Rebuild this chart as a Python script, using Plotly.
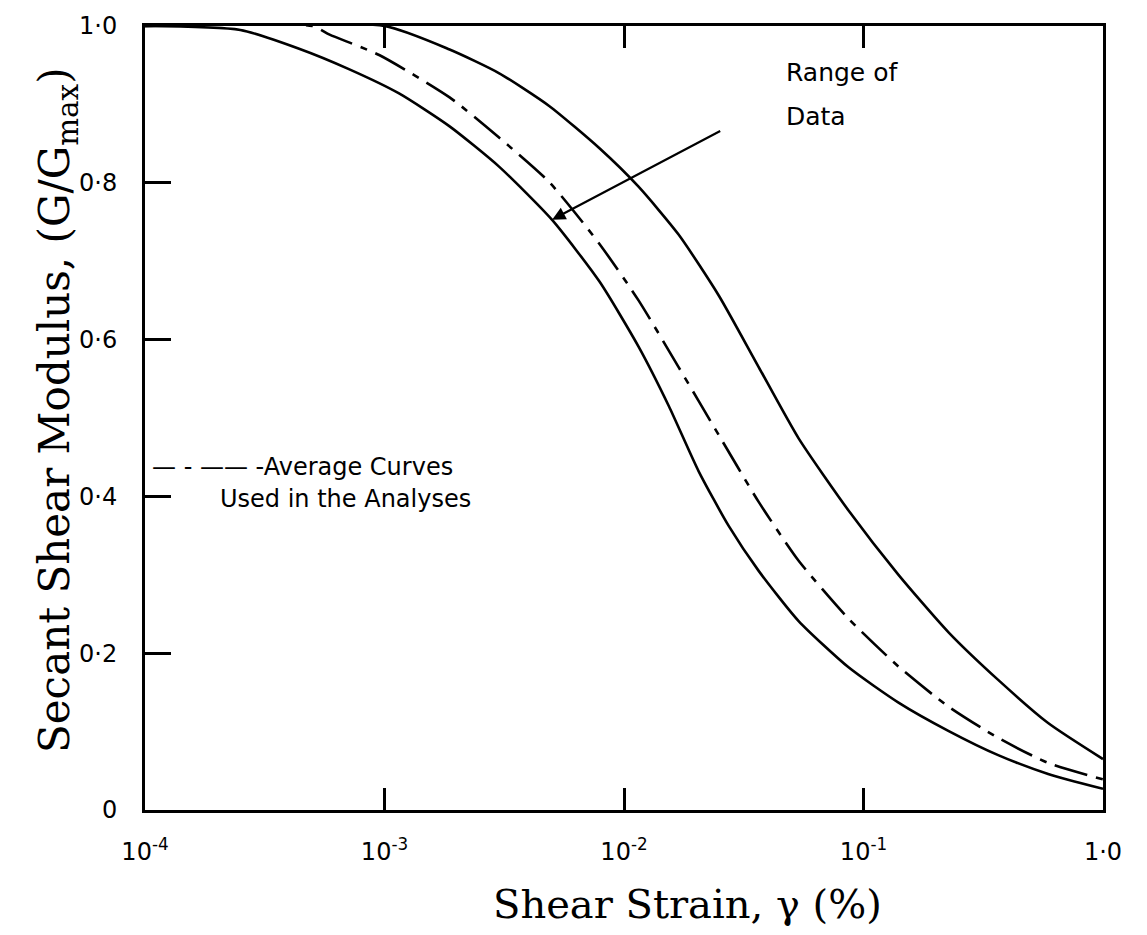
import plotly.graph_objects as go

# ---- data ----
lower_strain = [1e-4, 2.5e-4, 4.4e-4, 7.1e-4, 1.15e-3, 1.87e-3, 3.0e-3, 5.0e-3, 7.9e-3,
                1.15e-2, 1.54e-2, 2.05e-2, 2.74e-2, 3.65e-2, 5.36e-2, 8.66e-2, 0.14,
                0.226, 0.365, 0.59, 1.0]
lower_ratio = [1.0, 0.995, 0.971, 0.945, 0.914, 0.872, 0.821, 0.753, 0.674,
               0.591, 0.515, 0.432, 0.362, 0.305, 0.241, 0.182, 0.137,
               0.101, 0.070, 0.046, 0.027]

avg_strain = [1e-4, 5.0e-4, 5.9e-4, 9.5e-4, 1.87e-3, 3.0e-3, 4.87e-3, 7.9e-3, 1.15e-2,
              1.69e-2, 2.49e-2, 3.65e-2, 5.36e-2, 8.66e-2, 0.14, 0.226, 0.365, 0.59, 1.0]
avg_ratio = [1.0, 1.0, 0.989, 0.963, 0.909, 0.858, 0.801, 0.722, 0.650,
             0.565, 0.478, 0.393, 0.318, 0.244, 0.183, 0.132, 0.092, 0.060, 0.039]

upper_strain = [1e-4, 1.0e-3, 1.87e-3, 3.0e-3, 4.87e-3, 7.9e-3, 1.15e-2, 1.69e-2, 2.49e-2,
                3.65e-2, 5.36e-2, 8.66e-2, 0.14, 0.226, 0.365, 0.59, 1.0]
upper_ratio = [1.0, 1.0, 0.970, 0.940, 0.898, 0.844, 0.795, 0.734, 0.656,
               0.565, 0.474, 0.382, 0.300, 0.227, 0.166, 0.111, 0.065]

x_tickvals = [1e-4, 1e-3, 1e-2, 1e-1, 1.0]
x_ticktext = ["10<sup>-4</sup>", "10<sup>-3</sup>", "10<sup>-2</sup>", "10<sup>-1</sup>", "1·0"]
y_tickvals = [0, 0.2, 0.4, 0.6, 0.8, 1.0]
y_ticktext = ["0", "0·2", "0·4", "0·6", "0·8", "1·0"]

sans = "DejaVu Sans, Liberation Sans, sans-serif"
serif = "DejaVu Serif, Liberation Serif, serif"
NB = "\u00a0"

fig = go.Figure()
line_common = dict(color="black", width=2.6, shape="spline", smoothing=0.6)
fig.add_trace(go.Scatter(x=lower_strain, y=lower_ratio, mode="lines",
                         line=line_common, showlegend=False, hoverinfo="skip"))
fig.add_trace(go.Scatter(x=upper_strain, y=upper_ratio, mode="lines",
                         line=line_common, showlegend=False, hoverinfo="skip"))
fig.add_trace(go.Scatter(x=avg_strain, y=avg_ratio, mode="lines",
                         line=dict(color="black", width=2.6, shape="spline", smoothing=0.6,
                                   dash="34px,9px,7px,9px"),
                         showlegend=False, hoverinfo="skip"))

fig.update_layout(
    width=1147, height=935,
    margin=dict(l=145, r=44, t=16, b=125),
    paper_bgcolor="white", plot_bgcolor="white",
    xaxis=dict(type="log", range=[-4, 0], tickvals=x_tickvals, ticktext=x_ticktext,
               ticks="inside", ticklen=22, tickwidth=2.5, tickcolor="black",
               ticklabelstandoff=18,
               showline=True, linewidth=3, linecolor="black", mirror="ticks",
               showgrid=False, zeroline=False,
               tickfont=dict(family=sans, size=24, color="black")),
    yaxis=dict(range=[0, 1], tickvals=y_tickvals, ticktext=y_ticktext,
               ticks="inside", ticklen=26, tickwidth=2.5, tickcolor="black",
               ticklabelstandoff=20,
               showline=True, linewidth=3, linecolor="black", mirror=True,
               showgrid=False, zeroline=False,
               tickfont=dict(family=sans, size=24, color="black")),
    font=dict(family=sans, color="black"),
)

annotations = [
    dict(text="Shear Strain, γ (%)", xref="paper", yref="paper", x=0.566, y=-0.12,
         xanchor="center", yanchor="middle", showarrow=False,
         font=dict(family=serif, size=40, color="black")),
    dict(text="Secant Shear Modulus, (G/G<sub>max</sub>)", xref="paper", yref="paper",
         x=-0.092, y=0.51, xanchor="center", yanchor="middle", textangle=-90,
         showarrow=False, font=dict(family=serif, size=42, color="black")),
    dict(text="Range of", xref="paper", yref="paper", x=0.667, y=0.962,
         xanchor="left", yanchor="top", showarrow=False,
         font=dict(family=sans, size=25, color="black")),
    dict(text="Data", xref="paper", yref="paper", x=0.667, y=0.905,
         xanchor="left", yanchor="top", showarrow=False,
         font=dict(family=sans, size=25, color="black")),
    dict(text="—" + NB + "-" + NB + "——" + NB + "-Average Curves", xref="paper", yref="paper",
         x=0.005, y=0.437, xanchor="left", yanchor="middle", showarrow=False,
         font=dict(family=sans, size=24, color="black")),
    dict(text="Used in the Analyses", xref="paper", yref="paper", x=0.076, y=0.397,
         xanchor="left", yanchor="middle", showarrow=False,
         font=dict(family=sans, size=24, color="black")),
    dict(x=-2.30, y=0.753, xref="x", yref="y", ax=-1.592, ay=0.867, axref="x", ayref="y",
         text="", showarrow=True, arrowhead=2, arrowsize=1.2, arrowwidth=2.2,
         arrowcolor="black"),
]
fig.update_layout(annotations=annotations)

fig.write_html("out.html")
